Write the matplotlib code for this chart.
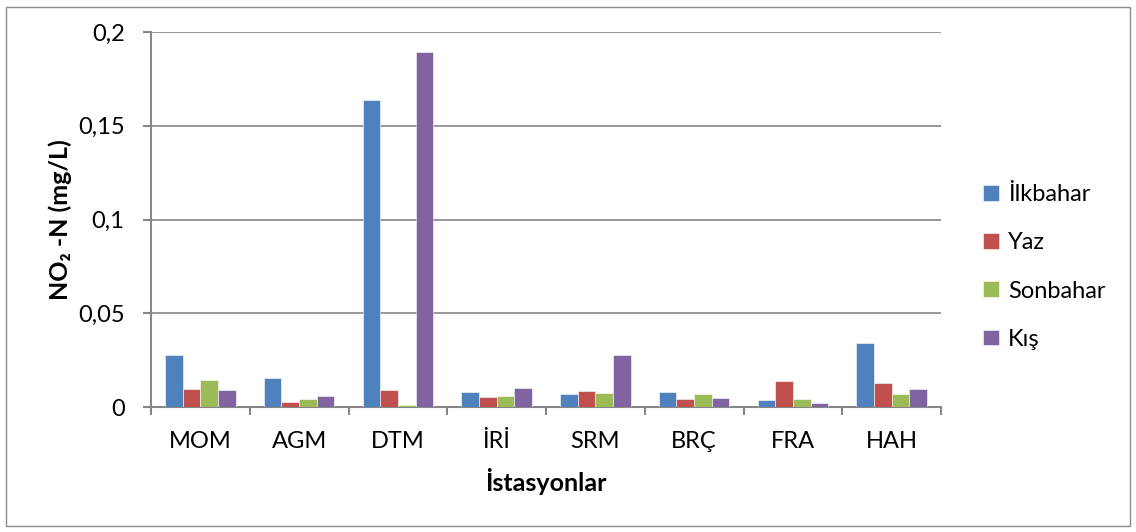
import matplotlib
matplotlib.use("Agg")
import matplotlib.pyplot as plt
from matplotlib.patches import Rectangle
import numpy as np

plt.rcParams['font.family'] = ['Lato', 'DejaVu Sans']

stations = ["MOM", "AGM", "DTM", "İRİ", "SRM", "BRÇ", "FRA", "HAH"]
ilkbahar = [0.028, 0.0155, 0.1635, 0.008, 0.0071, 0.008, 0.0036, 0.0341]
yaz = [0.0096, 0.0025, 0.0091, 0.0051, 0.0085, 0.0044, 0.014, 0.0128]
sonbahar = [0.0144, 0.0041, 0.0012, 0.006, 0.0077, 0.0071, 0.0041, 0.0071]
kis = [0.0091, 0.0059, 0.1893, 0.0103, 0.0277, 0.005, 0.0023, 0.0098]
series_names = ["İlkbahar", "Yaz", "Sonbahar", "Kış"]
colors = ["#4F81BD", "#C0504D", "#9BBB59", "#8064A2"]
yticks = [0, 0.05, 0.1, 0.15, 0.2]
yticklabels = ["0", "0,05", "0,1", "0,15", "0,2"]

W, H = 1136, 532
fig = plt.figure(figsize=(W / 100, H / 100), dpi=100)
ax = fig.add_axes([151 / W, 1 - 407 / H, (941 - 151) / W, (407 - 32) / H])

fig.patches.append(Rectangle((6 / W, 6 / H), (1130 - 6) / W, (525 - 6) / H,
                             transform=fig.transFigure, fill=False,
                             edgecolor="#8C8C8C", linewidth=1.0))

x = np.arange(len(stations))
bw = 0.179
data = [ilkbahar, yaz, sonbahar, kis]
for i, (vals, name, c) in enumerate(zip(data, series_names, colors)):
    ax.bar(x + (i - 1.5) * bw, vals, width=bw, color=c, label=name,
           edgecolor="white", linewidth=0.4, zorder=3)

ax.set_xlim(-0.5, len(stations) - 0.5)
ax.set_ylim(0, 0.2)
ax.set_yticks(yticks)
ax.set_yticklabels(yticklabels, fontsize=17)
ax.yaxis.grid(True, color="#868686", linewidth=1.2, zorder=0)
ax.set_axisbelow(True)

ax.set_xticks(x)
ax.set_xticklabels(stations, fontsize=17)
ax.tick_params(axis="x", length=0, pad=17)
ax.set_xticks(np.arange(-0.5, len(stations)), minor=True)
ax.tick_params(axis="x", which="minor", length=6, width=1.5, color="#868686")
ax.tick_params(axis="y", length=6, width=1.5, color="#868686", pad=13)

for s in ["top", "right"]:
    ax.spines[s].set_visible(False)
for s in ["left", "bottom"]:
    ax.spines[s].set_color("#868686")
    ax.spines[s].set_linewidth(1.5)

ax.set_ylabel("NO₂ -N (mg/L)", fontsize=18, fontweight="bold", labelpad=4)
ax.set_xlabel("İstasyonlar", fontsize=18, fontweight="bold", labelpad=12)

leg = ax.legend(loc="center left", bbox_to_anchor=(962 / W, 1 - 267 / H),
                bbox_transform=fig.transFigure, frameon=False, fontsize=17,
                handlelength=0.65, handleheight=0.65, handletextpad=0.4,
                labelspacing=1.15)

fig.savefig("out.png", dpi=100)
